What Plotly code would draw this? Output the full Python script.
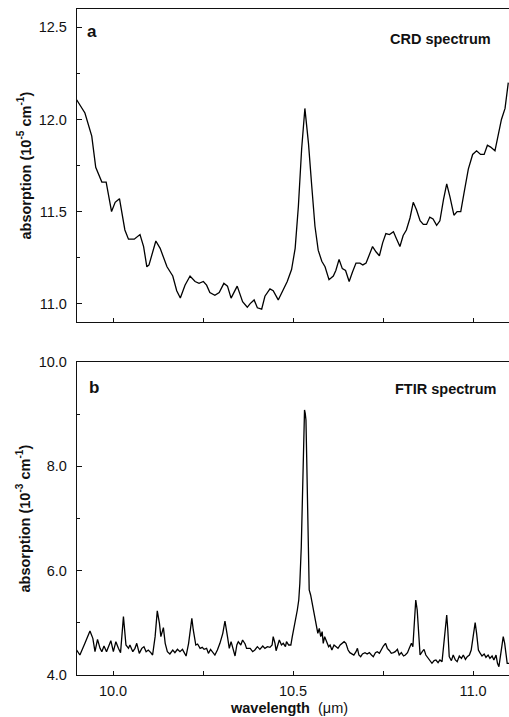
import plotly.graph_objects as go
from plotly.subplots import make_subplots

# ---- CRD spectrum (panel a), absorption in 1e-5 cm^-1 ----
crd_wavelength = [9.899, 9.922, 9.941, 9.952, 9.969, 9.981, 9.996, 10.006, 10.018, 10.033,
                  10.043, 10.059, 10.075, 10.085, 10.094, 10.100, 10.119, 10.131, 10.150, 10.166,
                  10.177, 10.187, 10.200, 10.214, 10.228, 10.239, 10.251, 10.260, 10.269, 10.283,
                  10.295, 10.308, 10.318, 10.328, 10.345, 10.360, 10.373, 10.381, 10.392, 10.401,
                  10.413, 10.422, 10.436, 10.445, 10.459, 10.473, 10.484, 10.496, 10.506, 10.515,
                  10.524, 10.533, 10.543, 10.552, 10.561, 10.570, 10.580, 10.589, 10.600, 10.612,
                  10.619, 10.628, 10.637, 10.646, 10.656, 10.665, 10.675, 10.686, 10.694, 10.703,
                  10.712, 10.721, 10.731, 10.740, 10.749, 10.758, 10.768, 10.779, 10.788, 10.797,
                  10.806, 10.815, 10.825, 10.834, 10.843, 10.853, 10.862, 10.871, 10.880, 10.889,
                  10.899, 10.908, 10.918, 10.927, 10.936, 10.947, 10.956, 10.966, 10.975, 10.987,
                  10.999, 11.010, 11.021, 11.031, 11.040, 11.049, 11.061, 11.070, 11.079, 11.089,
                  11.098]
crd_absorption = [12.107, 12.035, 11.91, 11.74, 11.66, 11.66, 11.50, 11.55, 11.57, 11.40,
                  11.35, 11.35, 11.375, 11.31, 11.20, 11.21, 11.34, 11.30, 11.20, 11.15,
                  11.07, 11.03, 11.10, 11.15, 11.12, 11.11, 11.12, 11.10, 11.06, 11.045,
                  11.06, 11.11, 11.095, 11.03, 11.095, 11.01, 10.98, 11.00, 11.02, 10.977,
                  10.97, 11.04, 11.08, 11.07, 11.02, 11.08, 11.12, 11.185, 11.30, 11.53,
                  11.84, 12.06, 11.87, 11.64, 11.42, 11.29, 11.23, 11.20, 11.13, 11.15,
                  11.18, 11.24, 11.19, 11.18, 11.12, 11.17, 11.22, 11.22, 11.21, 11.22,
                  11.26, 11.31, 11.28, 11.26, 11.33, 11.38, 11.375, 11.39, 11.35, 11.31,
                  11.37, 11.40, 11.465, 11.55, 11.51, 11.45, 11.43, 11.43, 11.47, 11.46,
                  11.425, 11.45, 11.565, 11.65, 11.58, 11.48, 11.50, 11.50, 11.60, 11.73,
                  11.81, 11.83, 11.81, 11.81, 11.86, 11.85, 11.83, 11.91, 12.00, 12.06,
                  12.20]

# ---- FTIR spectrum (panel b), absorption in 1e-3 cm^-1 ----
ftir_wavelength = [9.899, 9.908, 9.922, 9.936, 9.944, 9.950, 9.957, 9.964, 9.969, 9.975,
                   9.982, 9.987, 9.994, 10.001, 10.008, 10.015, 10.021, 10.029, 10.036, 10.043,
                   10.047, 10.055, 10.061, 10.066, 10.073, 10.080, 10.086, 10.092, 10.098, 10.105,
                   10.110, 10.117, 10.123, 10.129, 10.133, 10.140, 10.145, 10.151, 10.158, 10.166,
                   10.172, 10.179, 10.186, 10.193, 10.198, 10.203, 10.210, 10.219, 10.223, 10.230,
                   10.235, 10.242, 10.248, 10.253, 10.260, 10.265, 10.271, 10.279, 10.283, 10.290,
                   10.297, 10.305, 10.311, 10.318, 10.323, 10.328, 10.334, 10.339, 10.344, 10.348,
                   10.355, 10.360, 10.367, 10.371,
                   10.381, 10.388, 10.394, 10.401, 10.408, 10.416, 10.422, 10.429, 10.436, 10.442,
                   10.445, 10.450, 10.453, 10.457, 10.462, 10.468, 10.473, 10.479, 10.482, 10.488,
                   10.494, 10.498, 10.503, 10.507, 10.512, 10.516, 10.519, 10.523, 10.526, 10.529,
                   10.532, 10.534, 10.536, 10.538, 10.540, 10.543, 10.545, 10.549, 10.554, 10.558,
                   10.562, 10.566, 10.569, 10.573, 10.577, 10.581, 10.584, 10.588, 10.594, 10.599,
                   10.603, 10.608, 10.614, 10.620, 10.625, 10.631, 10.636, 10.642, 10.647, 10.653,
                   10.658, 10.664, 10.669, 10.675, 10.679, 10.683, 10.688, 10.693, 10.700, 10.706,
                   10.712, 10.718, 10.723, 10.729, 10.734, 10.740, 10.745, 10.751, 10.757, 10.762,
                   10.768, 10.773, 10.779, 10.784, 10.790, 10.795, 10.801, 10.807, 10.812, 10.818,
                   10.823, 10.829, 10.833, 10.836, 10.841, 10.845, 10.849, 10.853, 10.859, 10.864,
                   10.869, 10.875, 10.881, 10.886, 10.892, 10.897, 10.903, 10.908, 10.914, 10.917,
                   10.922, 10.927, 10.930, 10.934, 10.940, 10.945, 10.951, 10.956, 10.962, 10.968,
                   10.973, 10.979, 10.984, 10.990, 10.995, 11.001, 11.006, 11.010, 11.015, 11.019,
                   11.025, 11.031, 11.036, 11.042, 11.047, 11.053, 11.058, 11.064, 11.068, 11.072,
                   11.077, 11.081, 11.084, 11.088, 11.092, 11.095, 11.100]
ftir_absorption = [4.479, 4.383, 4.607, 4.843, 4.703, 4.447, 4.684, 4.511, 4.447, 4.556,
                   4.447, 4.543, 4.658, 4.447, 4.639, 4.511, 4.428, 5.118, 4.575, 4.511,
                   4.575, 4.447, 4.511, 4.607, 4.415, 4.511, 4.543, 4.447, 4.479, 4.428,
                   4.383, 4.735, 5.230, 4.990, 4.735, 4.907, 4.607, 4.447, 4.403, 4.479,
                   4.428, 4.492, 4.447, 4.492, 4.415, 4.364, 4.607, 5.086, 4.863, 4.575,
                   4.594, 4.511, 4.530, 4.492, 4.511, 4.415, 4.492, 4.428, 4.383, 4.479,
                   4.607, 4.799, 5.035, 4.735, 4.511, 4.639, 4.479, 4.364, 4.575, 4.639,
                   4.575, 4.671, 4.594, 4.511,
                   4.511, 4.447, 4.479, 4.543, 4.492, 4.556, 4.511, 4.543, 4.530, 4.575,
                   4.735, 4.607, 4.466, 4.575, 4.671, 4.575, 4.607, 4.543, 4.639, 4.575,
                   4.575, 4.735, 4.895, 5.054, 5.246, 5.438, 5.757, 6.460, 7.290, 8.185,
                   9.080, 9.016, 8.888, 8.185, 7.419, 6.141, 5.629, 5.534, 5.342, 5.150,
                   4.990, 4.876, 4.799, 4.895, 4.735, 4.831, 4.607, 4.735, 4.639, 4.543,
                   4.575, 4.479, 4.575, 4.543, 4.511, 4.575, 4.607, 4.639, 4.607, 4.479,
                   4.428, 4.403, 4.383, 4.447, 4.511, 4.383, 4.351, 4.403, 4.428, 4.403,
                   4.428, 4.383, 4.351, 4.428, 4.447, 4.415, 4.492, 4.556, 4.607, 4.511,
                   4.466, 4.415, 4.428, 4.447, 4.492, 4.383, 4.428, 4.364, 4.383, 4.428,
                   4.511, 4.607, 4.543, 4.927, 5.438, 5.246, 4.735, 4.383, 4.447, 4.492,
                   4.383, 4.319, 4.256, 4.224, 4.275, 4.288, 4.236, 4.288, 4.256, 4.479,
                   4.863, 5.150, 4.863, 4.351, 4.275, 4.383, 4.288, 4.256, 4.364, 4.319,
                   4.383, 4.300, 4.351, 4.383, 4.479, 4.735, 5.003, 4.799, 4.479, 4.428,
                   4.364, 4.403, 4.339, 4.383, 4.319, 4.364, 4.288, 4.383, 4.224, 4.160,
                   4.383, 4.575, 4.735, 4.607, 4.319, 4.224, 4.224]

x_major = [10.0, 10.5, 11.0]
x_minor = [10.25, 10.75]
top_y_major = [11.0, 11.5, 12.0, 12.5]
top_y_minor = [11.25, 11.75, 12.25]
bot_y_major = [4.0, 6.0, 8.0, 10.0]
bot_y_minor = [5.0, 7.0, 9.0]

FONT = "Liberation Sans, Arial, Helvetica, sans-serif"
INK = "#111111"

fig = make_subplots(rows=2, cols=1, shared_xaxes=False)

fig.add_trace(go.Scatter(x=crd_wavelength, y=crd_absorption, mode="lines",
                         line=dict(color="black", width=1.3), showlegend=False),
              row=1, col=1)
fig.add_trace(go.Scatter(x=ftir_wavelength, y=ftir_absorption, mode="lines",
                         line=dict(color="black", width=1.3), showlegend=False),
              row=2, col=1)

axis_common = dict(showline=True, linecolor=INK, linewidth=1.4, showgrid=False,
                   zeroline=False, ticks="inside", tickcolor=INK, tickwidth=1.2,
                   tickfont=dict(family=FONT, size=14.5, color=INK))

x_minor_cfg = dict(tickvals=x_minor, ticks="inside", ticklen=4, tickcolor=INK,
                   tickwidth=1.2, showgrid=False)

fig.update_layout(
    width=509, height=717,
    margin=dict(l=77, r=0, t=9, b=42),
    paper_bgcolor="white", plot_bgcolor="white",
    font=dict(family=FONT, color=INK),
    xaxis=dict(axis_common, domain=[0, 1], range=[9.9, 11.1], mirror=True,
               tickvals=x_major, ticklen=4, minor=x_minor_cfg,
               showticklabels=False, anchor="y"),
    yaxis=dict(axis_common, domain=[0.530, 1.0], range=[10.9, 12.6],
               tickvals=top_y_major, tickformat=".1f", ticklen=5,
               ticklabelstandoff=6,
               minor=dict(tickvals=top_y_minor, ticks="inside", ticklen=3,
                          tickcolor=INK, tickwidth=1.2, showgrid=False),
               anchor="x"),
    xaxis2=dict(axis_common, domain=[0, 1], range=[9.9, 11.1], mirror=True,
                tickvals=x_major, tickformat=".1f", ticklen=4, minor=x_minor_cfg,
                ticklabelstandoff=2, anchor="y2"),
    yaxis2=dict(axis_common, domain=[0.0, 0.470], range=[4.0, 10.0],
                tickvals=bot_y_major, tickformat=".1f", ticklen=5,
                ticklabelstandoff=6,
                minor=dict(tickvals=bot_y_minor, ticks="inside", ticklen=3,
                           tickcolor=INK, tickwidth=1.2, showgrid=False),
                anchor="x2"),
)

ann_font = dict(family=FONT, size=14.5, color=INK)
annotations = [
    dict(text="<b>a</b>", xref="paper", yref="paper", x=0.018, y=0.966,
         xanchor="left", yanchor="middle", showarrow=False,
         font=dict(family=FONT, size=17, color=INK)),
    dict(text="<b>b</b>", xref="paper", yref="paper", x=0.024, y=0.431,
         xanchor="left", yanchor="middle", showarrow=False,
         font=dict(family=FONT, size=17, color=INK)),
    dict(text="<b>CRD spectrum</b>", xref="paper", yref="paper", x=0.963, y=0.955,
         xanchor="right", yanchor="middle", showarrow=False, font=ann_font),
    dict(text="<b>FTIR spectrum</b>", xref="paper", yref="paper", x=0.977, y=0.429,
         xanchor="right", yanchor="middle", showarrow=False, font=ann_font),
    dict(text="<b>absorption (10<sup>-5</sup> cm<sup>-1</sup>)</b>", xref="paper", yref="paper",
         x=-0.1227, y=0.765, xanchor="center", yanchor="middle", textangle=-90,
         showarrow=False, font=ann_font),
    dict(text="<b>absorption (10<sup>-3</sup> cm<sup>-1</sup>)</b>", xref="paper", yref="paper",
         x=-0.1227, y=0.235, xanchor="center", yanchor="middle", textangle=-90,
         showarrow=False, font=ann_font),
    dict(text="<b>wavelength  </b>(\u03bcm)", xref="paper", yref="paper",
         x=0.491, y=-0.05, xanchor="center", yanchor="middle",
         showarrow=False, font=ann_font),
]
fig.update_layout(annotations=annotations)

fig.write_html(
    "out.html",
    config={"displayModeBar": False},
    post_script="document.body.style.margin='0';document.body.style.overflow='hidden';",
)
